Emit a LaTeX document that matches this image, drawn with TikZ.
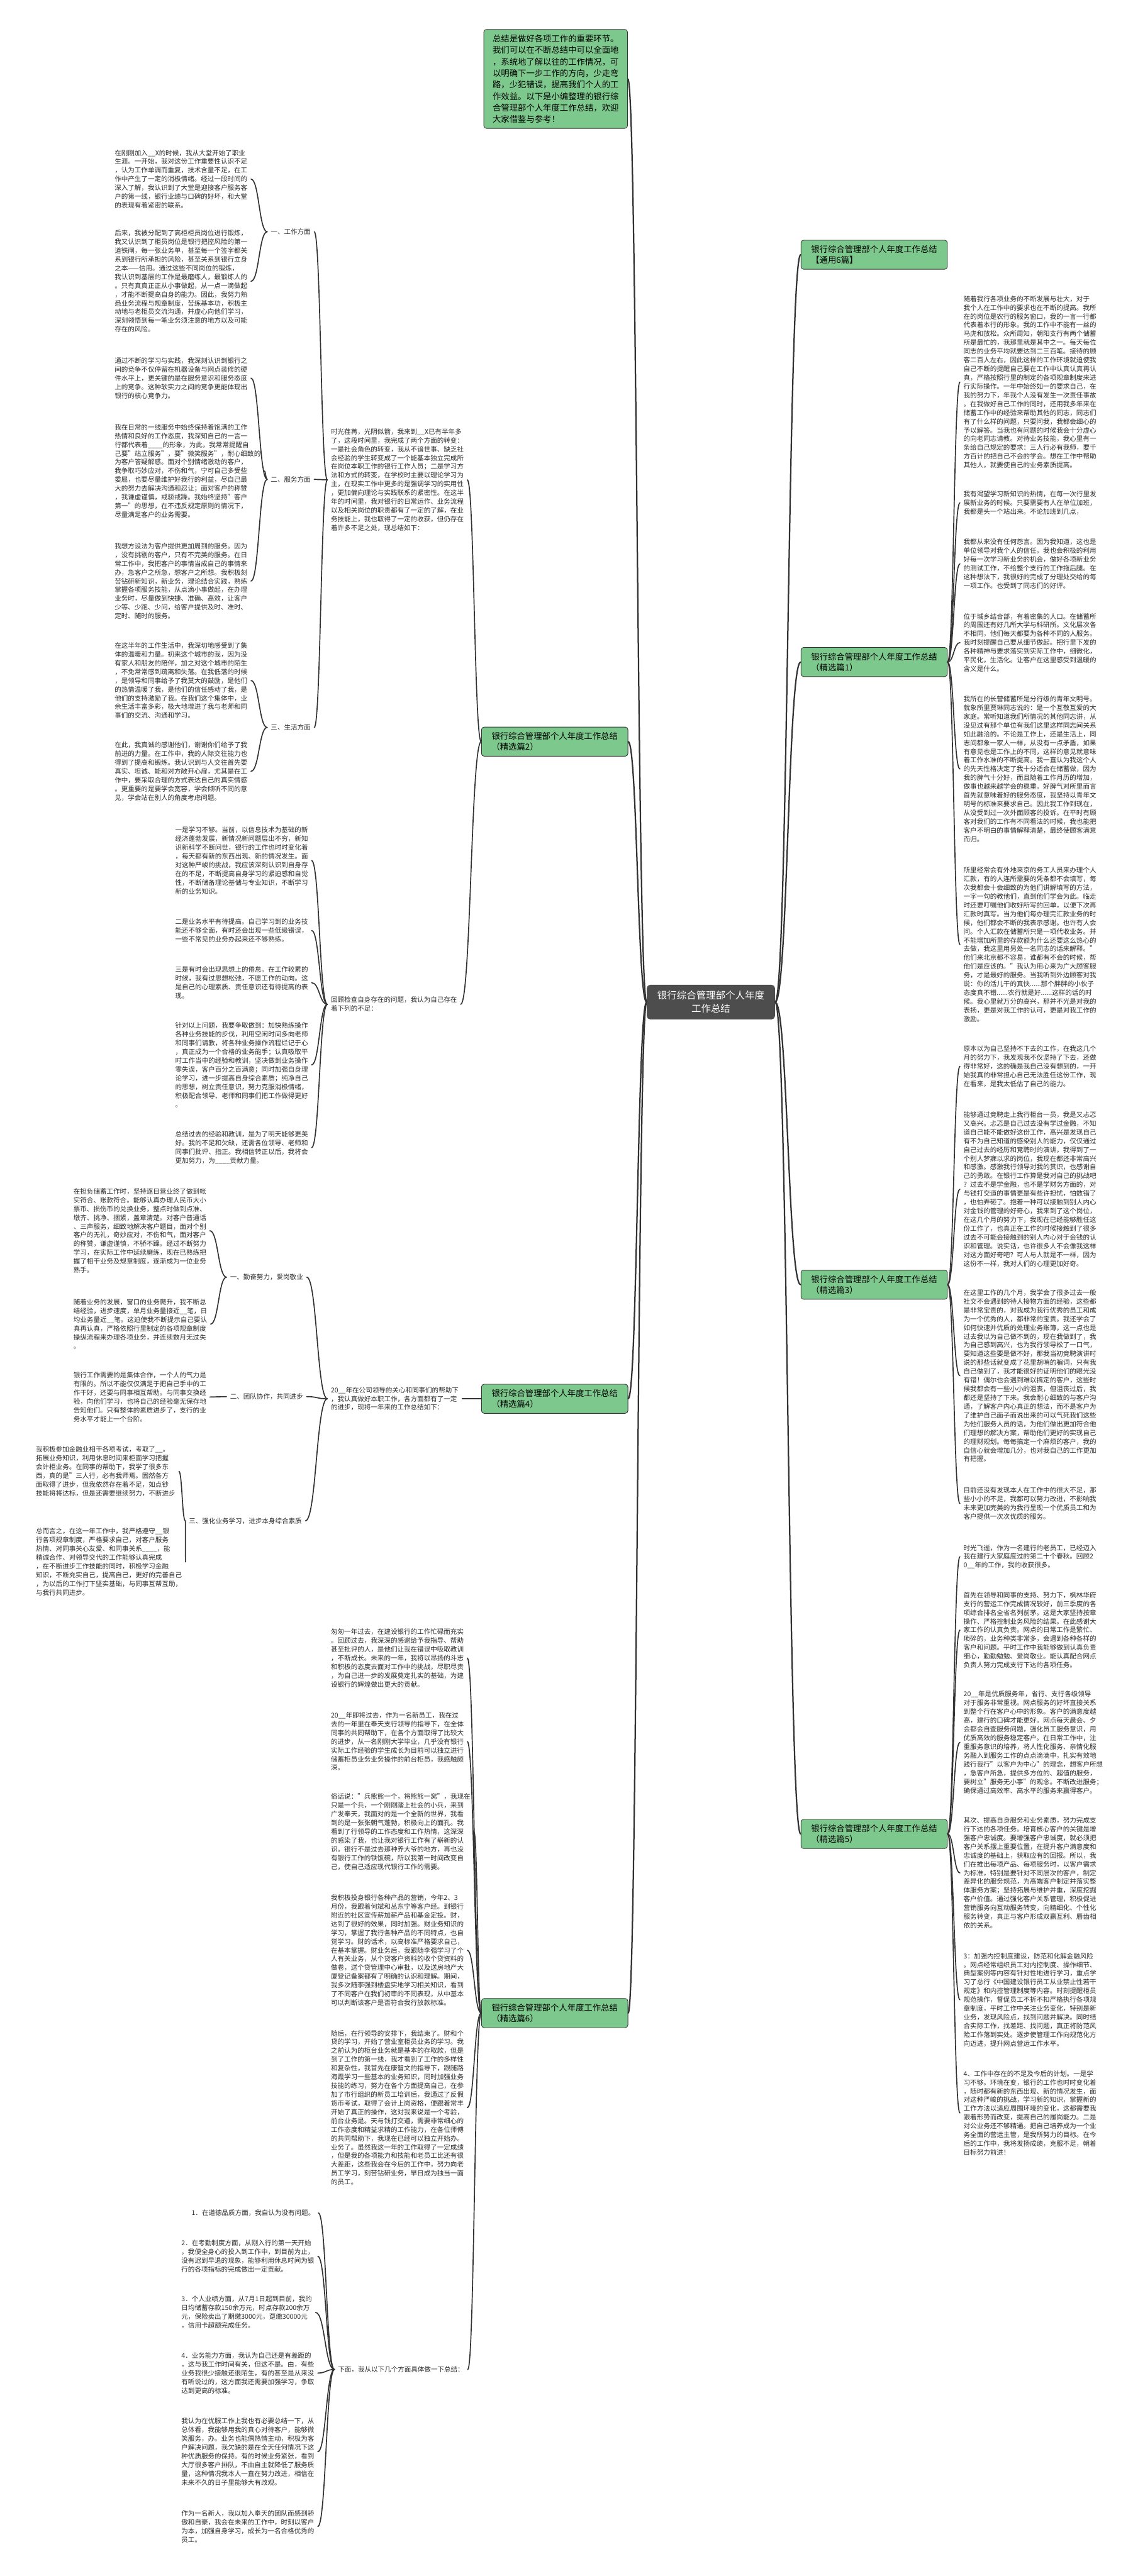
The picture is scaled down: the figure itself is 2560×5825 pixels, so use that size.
\documentclass[tikz,border=0pt]{standalone}
\usepackage{fontspec}
\setmainfont{Noto Sans CJK SC}
\usetikzlibrary{calc}
\definecolor{leafgreen}{HTML}{7DC88C}
\definecolor{rootgrey}{HTML}{4D4D4D}
\definecolor{edgegrey}{HTML}{333333}
\definecolor{txt}{HTML}{2B2B2B}
\newcommand{\leafsize}{\fontsize{15}{19.8}\selectfont}
\newcommand{\topicsize}{\fontsize{19}{24}\selectfont}
\newcommand{\notesize}{\fontsize{19}{26}\selectfont}
\newcommand{\rootsize}{\fontsize{22}{30}\selectfont}
\tikzset{
  leaf/.style={font=\leafsize, text=txt, align=left, inner xsep=8pt, inner ysep=2pt, anchor=west},
  topic/.style={draw=edgegrey, fill=leafgreen, rounded corners=6pt, line width=1.2pt, font=\topicsize, text=black, align=left, inner xsep=23pt, inner ysep=12pt},
  root/.style={fill=rootgrey, rounded corners=8pt, font=\rootsize, text=white, align=center, inner xsep=24pt, inner ysep=14pt},
  link/.style={draw=edgegrey, line width=2.4pt, line cap=round},
  brace/.style={to path={let \p1=(\tikztostart), \p2=(\tikztotarget) in
      .. controls ({(\x1+\x2)/2},\y1) and ({(\x1+\x2)/2},\y2) .. (\tikztotarget)}},
}
\begin{document}
\begin{tikzpicture}[x=1pt,y=-1pt]
\useasboundingbox[fill=white] (0,0) rectangle (2560,5825);

% centre and main topics
\node[root] (root) at (1607,2266) {银行综合管理部个人年度\\工作总结};
\node[topic, anchor=north west, font=\notesize, inner xsep=20pt] (intro) at (1093,66)
  {总结是做好各项工作的重要环节。\\我们可以在不断总结中可以全面地\\，系统地了解以往的工作情况，可\\以明确下一步工作的方向，少走弯\\路，少犯错误，提高我们个人的工\\作效益。以下是小编整理的银行综\\合管理部个人年度工作总结，欢迎\\大家借鉴与参考！};
\node[topic, anchor=west] (r0) at (1810,576) {银行综合管理部个人年度工作总结\\【通用6篇】};
\node[topic, anchor=west] (r1) at (1810,1497) {银行综合管理部个人年度工作总结\\（精选篇1）};
\node[topic, anchor=west] (r3) at (1810,2905) {银行综合管理部个人年度工作总结\\（精选篇3）};
\node[topic, anchor=west] (r5) at (1810,4147) {银行综合管理部个人年度工作总结\\（精选篇5）};
\node[topic, anchor=east] (l2) at (1420,1677) {银行综合管理部个人年度工作总结\\（精选篇2）};
\node[topic, anchor=east] (l4) at (1420,3163) {银行综合管理部个人年度工作总结\\（精选篇4）};
\node[topic, anchor=east] (l6) at (1420,4552) {银行综合管理部个人年度工作总结\\（精选篇6）};

% 精选篇1
\node[leaf] (p1a) at (2170,864) {随着我行各项业务的不断发展与壮大，对于\\我个人在工作中的要求也在不断的提高。我所\\在的岗位是农行的服务窗口，我的一言一行都\\代表着本行的形象。我的工作中不能有一丝的\\马虎和放松。众所周知，朝阳支行有两个储蓄\\所是最忙的，我那里就是其中之一。每天每位\\同志的业务平均就要达到二三百笔。接待的顾\\客二百人左右，因此这样的工作环境就迫使我\\自己不断的提醒自己要在工作中认真认真再认\\真，严格按照行里的制定的各项规章制度来进\\行实际操作。一年中始终如一的要求自己，在\\我的努力下，年我个人没有发生一次责任事故\\。在我做好自己工作的同时，还用我多年来在\\储蓄工作中的经验来帮助其他的同志，同志们\\有了什么样的问题，只要问我，我都会细心的\\予以解答。当我也有问题的时候我会十分虚心\\的向老同志请教。对待业务技能，我心里有一\\条给自己规定的要求：三人行必有我师，要千\\方百计的把自己不会的学会。想在工作中帮助\\其他人，就要使自己的业务素质提高。};
\node[leaf] (p1b) at (2170,1137) {我有渴望学习新知识的热情，在每一次行里发\\展新业务的时候。只要需要有人在单位加班，\\我都是头一个站出来。不论加班到几点，};
\node[leaf] (p1c) at (2170,1275) {我都从来没有任何怨言。因为我知道，这也是\\单位领导对我个人的信任。我也会积极的利用\\好每一次学习新业务的机会，做好各项新业务\\的测试工作，不给整个支行的工作拖后腿。在\\这种想法下，我很好的完成了分理处交给的每\\一项工作。也受到了同志们的好评。};
\node[leaf] (p1d) at (2170,1453) {位于城乡结合部，有着密集的人口。在储蓄所\\的周围还有好几所大学与科研所。文化层次各\\不相同，他们每天都要为各种不同的人服务。\\我时刻提醒自己要从细节做起。把行里下发的\\各种精神与要求落实到实际工作中，细微化，\\平民化，生活化。让客户在这里感受到温暖的\\含义是什么。};
\node[leaf] (p1e) at (2170,1739) {我所在的长营储蓄所是分行级的青年文明号。\\就象所里贾琳同志说的：是一个互敬互爱的大\\家庭。常听知道我们所情况的其他同志讲，从\\没见过有那个单位有我们这里这样同志间关系\\如此融洽的。不论是工作上，还是生活上，同\\志间都象一家人一样，从没有一点矛盾，如果\\有意见也是工作上的不同，这样的意见就意味\\着工作水准的不断提高。我一直认为我这个人\\的先天性格决定了我十分适合在储蓄做，因为\\我的脾气十分好，而且随着工作月历的增加，\\做事也越来越学会的稳重。好脾气对所里而言\\首先就意味着好的服务态度，我坚持以青年文\\明号的标准来要求自己。因此我工作到现在，\\从没受到过一次外面顾客的投诉。在平时有顾\\客对我们的工作有不同看法的时候，我也能把\\客户不明白的事情解释清楚，最终使顾客满意\\而归。};
\node[leaf] (p1f) at (2170,2136) {所里经常会有外地来京的务工人员来办理个人\\汇款，有的人连所需要的凭条都不会填写，每\\次我都会十会细致的为他们讲解填写的方法，\\一字一句的教他们，直到他们学会为此。临走\\时还要叮嘱他们收好所写的回单，以便下次再\\汇款时真写。当为他们每办理完汇款业务的时\\候，他们都会不断的我表示感谢。也许有人会\\问。个人汇款在储蓄所只是一项代收业务。并\\不能增加所里的存款额为什么还要这么热心的\\去做，我这里用另处一名同志的话来解释。"\\他们来北京都不容易，谁都有不会的时候，帮\\他们是应该的。"我认为用心来为广大顾客服\\务，才是最好的服务。当我听到外边顾客对我\\说：你的活儿干的真快......那个胖胖的小伙子\\态度真不错......农行就是好......这样的话的时\\候。我心里就万分的高兴，那并不光是对我的\\表扬，更是对我工作的认可，更是对我工作的\\激励。};

% 精选篇3
\node[leaf] (p3a) at (2170,2411) {原本以为自己坚持不下去的工作，在我这几个\\月的努力下，我发现我不仅坚持了下去，还做\\得非常好，这的确是我自己没有想到的，一开\\始我真的非常担心自己无法胜任这份工作，现\\在看来，是我太低估了自己的能力。};
\node[leaf] (p3b) at (2170,2689) {能够通过竞聘走上我行柜台一员，我是又忐忑\\又高兴。忐忑是自己过去没有学过金融，不知\\道自己能不能做好这份工作，高兴是发现自己\\有不为自己知道的感染别人的能力，仅仅通过\\自己过去的经历和竞聘时的演讲，我得到了一\\个别人梦寐以求的岗位，我现在都还非常高兴\\和感激。感激我行领导对我的赏识，也感谢自\\己的勇敢。在银行工作算是我对自己的挑战吧\\？过去不是学金融，也不是学财务方面的，对\\与钱打交道的事情更是有些许担忧，怕数错了\\，也怕弄砸了。抱着一种可以接触到别人内心\\对金钱的管理的好奇心，我来到了这个岗位，\\在这几个月的努力下，我现在已经能够胜任这\\份工作了，也真正在工作的时候接触到了很多\\过去不可能会接触到的别人内心对于金钱的认\\识和管理。说实话，也许很多人不会像我这样\\对这方面好奇吧？可人与人就是不一样，因为\\这份不一样，我对人们的心理更加好奇。};
\node[leaf] (p3c) at (2170,3111) {在这里工作的几个月，我学会了很多过去一般\\社交不会遇到的待人接物方面的经验，这些都\\是非常宝贵的，对我成为我行优秀的员工和成\\为一个优秀的人，都非常的宝贵。我还学会了\\如何快速并优质的处理业务账簿，这一点也是\\过去我以为自己做不到的，现在我做到了，我\\为自己感到高兴，也为我行领导松了一口气，\\要知道这些要是做不好，那我当初竞聘演讲时\\说的那些话就变成了花里胡哨的骗词，只有我\\自己做到了，我才能很好的证明他们的眼光没\\有错！偶尔也会遇到难以搞定的客户，这些时\\候我都会有一些小小的沮丧，但沮丧过后，我\\都还是坚持了下来。我会耐心细致的与客户沟\\通，了解客户内心真正的想法，而不是客户为\\了维护自己面子而说出来的可以气死我们这些\\为他们服务人员的话，为他们做出更加符合他\\们理想的解决方案，帮助他们更好的实现自己\\的理财规划。每每搞定一个麻烦的客户，我的\\自信心就会增加几分，也对我自己的工作更加\\有把握。};
\node[leaf] (p3d) at (2170,3400) {目前还没有发现本人在工作中的很大不足，那\\些小小的不足，我都可以努力改进，不影响我\\未来更加完美的为我行呈现一个优质员工和为\\客户提供一次次优质的服务。};

% 精选篇5
\node[leaf] (p5a) at (2170,3520) {时光飞逝，作为一名建行的老员工，已经迈入\\我在建行大家庭度过的第二十个春秋。回顾2\\0\_\_年的工作，我的收获很多。};
\node[leaf] (p5b) at (2170,3686) {首先在领导和同事的支持、努力下，枫林华府\\支行的营运工作完成情况较好，前三季度的各\\项综合排名全省名列前茅。这是大家坚持按章\\操作、严格控制业务风险的结果。在此感谢大\\家工作的认真负责。网点的日常工作是繁忙、\\琐碎的，业务种类非常多，会遇到各种各样的\\客户和问题。平时工作中我能够做到认真负责\\细心，勤勤勉勉、爱岗敬业。能认真配合网点\\负责人努力完成支行下达的各项任务。};
\node[leaf] (p5c) at (2170,3940) {20\_\_年是优质服务年，省行、支行各级领导\\对于服务非常重视。网点服务的好坏直接关系\\到整个行在客户心中的形象。客户的满意度越\\高，建行的口碑才能更好。网点每天晨会、夕\\会都会自查服务问题，强化员工服务意识，用\\优质高效的服务稳定客户。在日常工作中，注\\重服务意识的培养，将人性化服务、亲情化服\\务融入到服务工作的点点滴滴中，扎实有效地\\践行我行"以客户为中心"的理念，想客户所想\\，急客户所急，提供多方位的、超值的服务，\\要树立"服务无小事"的观念。不断改进服务；\\确保通过高效率、高水平的服务来赢得客户。};
\node[leaf] (p5d) at (2170,4235) {其次、提高自身服务和业务素质，努力完成支\\行下达的各项任务。培育核心客户的关键是增\\强客户忠诚度。要增强客户忠诚度，就必须把\\客户关系摆上重要位置，在提升客户满意度和\\忠诚度的基础上，获取应有的回报。所以，我\\们在推出每项产品、每项服务时，以客户需求\\为标准，特别是要针对不同层次的客户，制定\\差异化的服务规范，为高端客户制定并落实整\\体服务方案；坚持拓展与维护并重，深度挖掘\\客户价值。通过强化客户关系管理，积极促进\\营销服务向互动服务转变，向精细化、个性化\\服务转变，真正与客户形成双赢互利、唇齿相\\依的关系。};
\node[leaf] (p5e) at (2170,4522) {3：加强内控制度建设，防范和化解金融风险\\。网点经常组织员工对内控制度、操作细节、\\典型案例等内容有针对性地进行学习，重点学\\习了总行《中国建设银行员工从业禁止性若干\\规定》和内控管理制度等内容。时刻提醒柜员\\规范操作，督促员工不折不扣严格执行各项规\\章制度，平时工作中关注业务变化，特别是新\\业务，发现风险点，找到问题并解决。同时结\\合实际工作，找差距、找问题，真正将防范风\\险工作落到实处。逐步使管理工作向规范化方\\向迈进，提升网点营运工作水平。};
\node[leaf] (p5f) at (2170,4778) {4、工作中存在的不足及今后的计划。一是学\\习不够。环境在变，银行的工作也时时变化着\\，随时都有新的东西出现、新的情况发生，面\\对这种严峻的挑战，学习新的知识，掌握新的\\工作方法以适应周围环境的变化，这都需要我\\跟着形势而改变，提高自己的履岗能力。二是\\对公业务还不够精通。把自己培养成为一个业\\务全面的营运主管，是我所努力的目标。在今\\后的工作中，我将发扬成绩，克服不足，朝着\\目标努力前进！};

% 精选篇2
\node[leaf] (l2p) at (740,1085) {时光荏苒，光阴似箭，我来到\_\_X已有半年多\\了，这段时间里，我完成了两个方面的转变：\\一是社会角色的转变，我从不谙世事、缺乏社\\会经验的学生转变成了一个能基本独立完成所\\在岗位本职工作的银行工作人员；二是学习方\\法和方式的转变，在学校时主要以理论学习为\\主，在现实工作中更多的是强调学习的实用性\\，更加偏向理论与实践联系的紧密性。在这半\\年的时间里，我对银行的日常运作、业务流程\\以及相关岗位的职责都有了一定的了解，在业\\务技能上，我也取得了一定的收获，但仍存在\\着许多不足之处，现总结如下：};
\node[leaf] (t1) at (604,524) {一、工作方面};
\node[leaf] (t2) at (604,1084) {二、服务方面};
\node[leaf] (t3) at (604,1645) {三、生活方面};
\node[leaf] (a1) at (251,405) {在刚刚加入\_\_X的时候，我从大堂开始了职业\\生涯。一开始，我对这份工作重要性认识不足\\，认为工作单调而重复，技术含量不足，在工\\作中产生了一定的消极情绪。经过一段时间的\\深入了解，我认识到了大堂是迎接客户服务客\\户的第一线，银行业绩与口碑的好坏，和大堂\\的表现有着紧密的联系。};
\node[leaf] (a2) at (251,636) {后来，我被分配到了高柜柜员岗位进行锻炼，\\我又认识到了柜员岗位是银行把控风险的第一\\道铁闸，每一张业务单，甚至每一个签字都关\\系到银行所承担的风险，甚至关系到银行立身\\之本——信用。通过这些不同岗位的锻炼，\\我认识到基层的工作是最磨练人，最锻炼人的\\。只有真真正正从小事做起，从一点一滴做起\\，才能不断提高自身的能力。因此，我努力熟\\悉业务流程与规章制度，苦练基本功，积极主\\动地与老柜员交流沟通，并虚心向他们学习，\\深刻领悟到每一笔业务须注意的地方以及可能\\存在的风险。};
\node[leaf] (b1) at (251,855) {通过不断的学习与实践，我深刻认识到银行之\\间的竞争不仅停留在机器设备与网点装修的硬\\件水平上，更关键的是在服务意识和服务态度\\上的竞争。这种软实力之间的竞争更能体现出\\银行的核心竞争力。};
\node[leaf] (b2) at (251,1065) {我在日常的一线服务中始终保持着饱满的工作\\热情和良好的工作态度，我深知自己的一言一\\行都代表着\_\_\_\_的形象，为此，我常常提醒自\\己要"站立服务"，要"微笑服务"，耐心细致的\\为客户答疑解惑。面对个别情绪激动的客户，\\我争取巧妙应对，不伤和气，宁可自己多受些\\委屈，也要尽量维护好我行的利益，尽自己最\\大的努力去解决沟通和忍让；面对客户的称赞\\，我谦虚谨慎，戒骄戒躁。我始终坚持"客户\\第一"的思想，在不违反规定原则的情况下，\\尽量满足客户的业务需要。};
\node[leaf] (b3) at (251,1314) {我想方设法为客户提供更加周到的服务。因为\\，没有挑剔的客户，只有不完美的服务。在日\\常工作中，我把客户的事情当成自己的事情来\\办，急客户之所急，想客户之所想。我积极刻\\苦钻研新知识，新业务，理论结合实践，熟练\\掌握各项服务技能，从点滴小事做起，在办理\\业务时，尽量做到快捷、准确、高效，让客户\\少等、少跑、少问，给客户提供及时、准时、\\定时、随时的服务。};
\node[leaf] (c1) at (251,1539) {在这半年的工作生活中，我深切地感受到了集\\体的温暖和力量。初来这个城市的我，因为没\\有家人和朋友的陪伴，加之对这个城市的陌生\\，不免常常感到疏离和失落。在我低落的时候\\，是领导和同事给予了我莫大的鼓励，是他们\\的热情温暖了我，是他们的信任感动了我，是\\他们的支持激励了我。在我们这个集体中，业\\余生活丰富多彩，极大地增进了我与老师和同\\事们的交流、沟通和学习。};
\node[leaf] (c2) at (251,1744) {在此，我真诚的感谢他们，谢谢你们给予了我\\前进的力量。在工作中，我的人际交往能力也\\得到了提高和锻炼。我认识到与人交往首先要\\真实、坦诚、能和对方敞开心扉，尤其是在工\\作中，要采取合理的方式表达自己的真实情感\\。更重要的是要学会宽容，学会倾听不同的意\\见，学会站在别人的角度考虑问题。};
\node[leaf] (l2q) at (740,2271) {回顾检查自身存在的问题，我认为自己存在\\着下列的不足：};
\node[leaf] (q1) at (388,1946) {一是学习不够。当前，以信息技术为基础的新\\经济蓬勃发展，新情况新问题层出不穷，新知\\识新科学不断问世，银行的工作也时时变化着\\，每天都有新的东西出现、新的情况发生。面\\对这种严峻的挑战，我应该深刻认识到自身存\\在的不足，不断提高自身学习的紧迫感和自觉\\性，不断储备理论基储与专业知识，不断学习\\新的业务知识。};
\node[leaf] (q2) at (388,2104) {二是业务水平有待提高。自己学习到的业务技\\能还不够全面，有时还会出现一些低级错误，\\一些不常见的业务办起来还不够熟练。};
\node[leaf] (q3) at (388,2222) {三是有时会出现思想上的倦怠。在工作较累的\\时候，我有过思想松弛，不愿工作的动向。这\\是自己的心理素质、责任意识还有待提高的表\\现。};
\node[leaf] (q4) at (388,2408) {针对以上问题，我要争取做到：加快熟练操作\\各种业务技能的步伐，利用空闲时间多向老师\\和同事们请教，将各种业务操作流程烂记于心\\，真正成为一个合格的业务能手；认真吸取平\\时工作当中的经验和教训，坚决做到业务操作\\零失误，客户百分之百满意；同时加强自身理\\论学习，进一步提高自身综合素质；纯净自己\\的思想，树立责任意识，努力克服消极情绪，\\积极配合领导、老师和同事们把工作做得更好\\。};
\node[leaf] (q5) at (388,2595) {总结过去的经验和教训，是为了明天能够更美\\好。我的不足和欠缺，还需各位领导、老师和\\同事们批评、指正。我相信转正以后，我将会\\更加努力，为\_\_\_\_贡献力量。};

% 精选篇4
\node[leaf] (l4p) at (740,3163) {20\_\_年在公司领导的关心和同事们的帮助下\\，我认真做好本职工作，各方面都有了一定\\的进步，现将一年来的工作总结如下：};
\node[leaf] (u1) at (512,2888) {一、勤奋努力，爱岗敬业};
\node[leaf] (u2) at (512,3158) {二、团队协作，共同进步};
\node[leaf] (u3) at (419,3439) {三、强化业务学习，进步本身综合素质};
\node[leaf] (d1) at (158,2783) {在担负储蓄工作时，坚持逐日营业终了做到帐\\实符合、账款符合。能够认真办理人民币大小\\票币、损伤币的兑换业务，整点时做到点准、\\墩齐、挑净、捆紧，盖章清楚。对客户普通话\\、三声服务，细致地解决客户题目，面对个别\\客户的无礼，奇妙应对，不伤和气，面对客户\\的称赞，谦虚谨慎，不骄不躁。经过不断努力\\学习，在实际工作中延续磨练，现在已熟练把\\握了相干业务及规章制度，逐渐成为一位业务\\熟手。};
\node[leaf] (d2) at (158,2994) {随着业务的发展，窗口的业务爬升，我不断总\\结经验，进步速度，单月业务量接近\_\_笔，日\\均业务量近\_\_笔。这迫使我不断提示自己要认\\真再认真，严格依照行里制定的各项规章制度\\操纵流程来办理各项业务，并连续数月无过失\\。};
\node[leaf] (e1) at (158,3159) {银行工作需要的是集体合作，一个人的气力是\\有限的。所以不能仅仅满足于把自己手中的工\\作干好，还要与同事相互帮助。与同事交换经\\验，向他们学习，也将自己的经验毫无保存地\\告知他们。只有整体的素质进步了，支行的业\\务水平才能上一个台阶。};
\node[leaf] (f1) at (73,3327) {我积极参加金融业相干各项考试，考取了\_\_。\\拓展业务知识，利用休息时间来柜面学习把握\\会计柜业务。在同事的帮助下，我学了很多东\\西，真的是"三人行，必有我师焉。固然各方\\面取得了进步，但我依然存在着不足，如点钞\\技能将将达标，但是还需要继续努力，不断进步};
\node[leaf] (f2) at (73,3532) {总而言之，在这一年工作中，我严格遵守\_\_银\\行各项规章制度，严格要求自己，对客户服务\\热情、对同事关心友爱、和同事关系\_\_\_\_，能\\精诚合作、对领导交代的工作能够认真完成\\，在不断进步工作技能的同时，积极学习金融\\知识，不断充实自己，提高自己，更好的完善自己\\，为以后的工作打下坚实基础，与同事互帮互助，\\与我行共同进步。};

% 精选篇6
\node[leaf] (g1) at (740,3749) {匆匆一年过去，在建设银行的工作忙碌而充实\\。回顾过去，我深深的感谢给予我指导、帮助\\甚至批评的人，是他们让我在错误中吸取教训\\，不断成长。未来的一年，我将以昂扬的斗志\\和积极的态度去面对工作中的挑战，尽职尽责\\，为自己进一步的发展奠定扎实的基础，为建\\设银行的辉煌做出更大的贡献。};
\node[leaf] (g2) at (740,3938) {20\_\_年即将过去，作为一名新员工，我在过\\去的一年里在奉天支行领导的指导下，在全体\\同事的共同帮助下，在各个方面取得了比较大\\的进步，从一名刚刚大学毕业，几乎没有银行\\实际工作经验的学生成长为目前可以独立进行\\储蓄柜员业务业务操作的前台柜员，我感触颇\\深。};
\node[leaf] (g3) at (740,4142) {俗话说："兵熊熊一个，将熊熊一窝"，我现在\\只是一个兵，一个刚刚踏上社会的小兵，来到\\广发奉天，我面对的是一个全新的世界，我看\\到的是一张张朝气蓬勃，积极向上的面孔。我\\看到了行领导的工作态度和工作热情，这深深\\的感染了我，也让我对银行工作有了崭新的认\\识。银行不是过去那种养大爷的地方，再也没\\有银行工作的铁饭碗，所以我第一时间改变自\\己，使自己适应现代银行工作的需要。};
\node[leaf] (g4) at (740,4410) {我积极投身银行各种产品的营销，今年2、3\\月份，我跟着何斌和丛东宁等客户经。到银行\\附近的社区宣传薪加薪产品和基金定投。财，\\达到了很好的效果，同时加强。财业务知识的\\学习，掌握了我行各种产品的不同特点，也自\\觉学习。财的话术，以高标准严格要求自己，\\在基本掌握。财业务后，我跟随李强学习了个\\人有关业务，从个贷客户资料的收个贷资料的\\做卷，送个贷管理中心审批，以及送房地产大\\厦登记备案都有了明确的认识和理解。期间，\\我多次随李强到楼盘实地学习相关知识，看到\\了不同客户在我们初审的不同表现，从中基本\\可以判断该客户是否符合我行放款标准。};
\node[leaf] (g5) at (740,4766) {随后，在行领导的安排下，我结束了。财和个\\贷的学习，开始了营业室柜员业务的学习。我\\之前认为的柜台业务就是基本的存取款，但是\\到了工作的第一线，我才看到了工作的多样性\\和复杂性，我首先在康智文的指导下，跟随路\\海霞学习一些基本的业务知识，同时加强业务\\技能的练习，努力在各个方面提高自己，在参\\加了市行组织的新员工培训后，我通过了反假\\货币考试，取得了会计上岗资格，便跟着常丰\\开始了真正的操作，这对我来说是一个考验，\\前台业务是。天与钱打交道，需要非常细心的\\工作态度和精益求精的工作能力，在各位师傅\\的共同帮助下，我现在已经可以独立开始办。\\业务了。虽然我这一年的工作取得了一定成绩\\，但是我的各项能力和技能和老员工比还有很\\大差距，这些我会在今后的工作中，努力向老\\员工学习，刻苦钻研业务，早日成为独当一面\\的员工。};
\node[leaf] (g6) at (756,5358) {下面，我从以下几个方面具体做一下总结：};
\node[leaf] (h1) at (402,5004) {\hspace*{23pt}1．在道德品质方面，我自认为没有问题。};
\node[leaf] (h2) at (402,5102) {2．在考勤制度方面，从刚入行的第一天开始\\，我便全身心的投入到工作中，到目前为止，\\没有迟到早退的现象，能够利用休息时间为银\\行的各项指标的完成做出一定贡献。};
\node[leaf] (h3) at (402,5229) {3．个人业绩方面，从7月1日起到目前，我的\\日均储蓄存款150余万元，时点存款200余万\\元，保险卖出了期缴3000元，趸缴30000元\\，信用卡超额完成任务。};
\node[leaf] (h4) at (402,5366) {4．业务能力方面，我认为自己还是有差距的\\，这与我工作时间有关，但这不是。由，有些\\业务我很少接触还很陌生，有的甚至是从来没\\有听说过的，这方面我还需要加强学习，争取\\达到更高的标准。};
\node[leaf] (h5) at (402,5544) {我认为在优服工作上我也有必要总结一下，从\\总体看，我能够用我的真心对待客户，能够微\\笑服务，办。业务也能偶热情主动，积极为客\\户解决问题，我欠缺的是在全天任何情况下这\\种优质服务的保持。有的时候业务紧张，看到\\大厅很多客户排队，不由自主就降低了服务质\\量，这种情况我本人一直在努力改进，相信在\\未来不久的日子里能够大有改观。};
\node[leaf] (h6) at (402,5713) {作为一名新人，我以加入奉天的团队而感到骄\\傲和自豪，我会在未来的工作中，时刻以客户\\为本，加强自身学习，成长为一名合格优秀的\\员工。};

% connectors
\foreach \k in {r0,r1,r3,r5} \draw[link, line width=3.2pt] (root.east) to[brace] (\k.west);
\foreach \k in {intro,l2,l4,l6} \draw[link, line width=3.2pt] (root.west) to[brace] (\k.east);
\foreach \k in {p1a,p1b,p1c,p1d,p1e,p1f} \draw[link] (r1.east) to[brace] (\k.west);
\foreach \k in {p3a,p3b,p3c,p3d} \draw[link] (r3.east) to[brace] (\k.west);
\foreach \k in {p5a,p5b,p5c,p5d,p5e,p5f} \draw[link] (r5.east) to[brace] (\k.west);
\foreach \k in {l2p,l2q} \draw[link] (l2.west) to[brace] (\k.east);
\foreach \k in {t1,t2,t3} \draw[link] (l2p.west) to[brace] (\k.east);
\foreach \k in {a1,a2} \draw[link] (t1.west) to[brace] (\k.east);
\foreach \k in {b1,b2,b3} \draw[link] (t2.west) to[brace] (\k.east);
\foreach \k in {c1,c2} \draw[link] (t3.west) to[brace] (\k.east);
\foreach \k in {q1,q2,q3,q4,q5} \draw[link] (l2q.west) to[brace] (\k.east);
\draw[link] (l4.west) to[brace] (l4p.east);
\foreach \k in {u1,u2,u3} \draw[link] (l4p.west) to[brace] (\k.east);
\foreach \k in {d1,d2} \draw[link] (u1.west) to[brace] (\k.east);
\draw[link] (u2.west) to[brace] (e1.east);
\foreach \k in {f1,f2} \draw[link] (u3.west) to[brace] (\k.east);
\foreach \k in {g1,g2,g3,g4,g5,g6} \draw[link] (l6.west) to[brace] (\k.east);
\foreach \k in {h1,h2,h3,h4,h5,h6} \draw[link] (g6.west) to[brace] (\k.east);
\end{tikzpicture}
\end{document}
